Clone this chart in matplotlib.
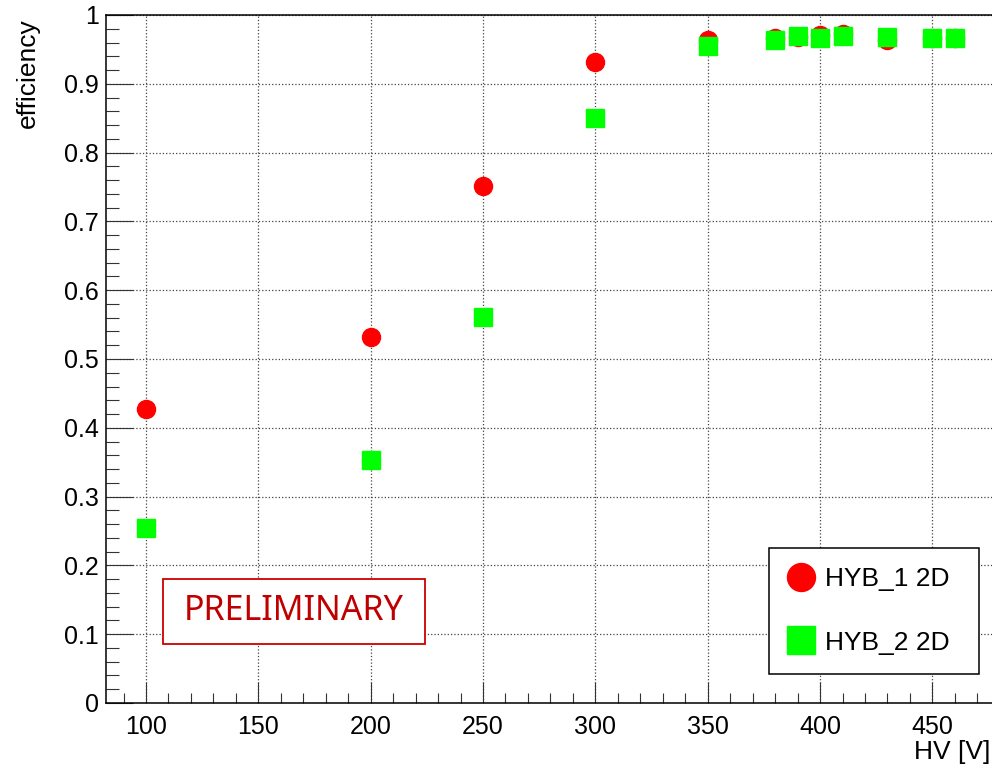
import numpy as np
import matplotlib
matplotlib.use("Agg")
import matplotlib.pyplot as plt
from matplotlib.patches import Rectangle
from matplotlib.ticker import MultipleLocator

plt.rcParams['font.family'] = ['Liberation Sans', 'DejaVu Sans']

# HV scan, efficiency per hybrid
hv_1 = [100, 200, 250, 300, 350, 380, 390, 400, 410, 430, 450, 460]
eff_1 = [0.428, 0.532, 0.751, 0.932, 0.964, 0.967, 0.968, 0.971, 0.972, 0.964, 0.966, 0.967]
hv_2 = [100, 200, 250, 300, 350, 380, 390, 400, 410, 430, 450, 460]
eff_2 = [0.254, 0.353, 0.561, 0.850, 0.955, 0.964, 0.969, 0.966, 0.969, 0.968, 0.967, 0.967]
labels = ['HYB_1 2D', 'HYB_2 2D']


def make_axes():
    fig = plt.figure(figsize=(9.92, 7.67), dpi=100)
    ax = fig.add_axes([106 / 992, 64 / 767, 894 / 992, 688 / 767])
    ax.set_xlim(82.19, 480.1)
    ax.set_ylim(0, 1)

    ax.xaxis.set_major_locator(MultipleLocator(50))
    ax.xaxis.set_minor_locator(MultipleLocator(10))
    ax.yaxis.set_major_locator(MultipleLocator(0.1))
    ax.yaxis.set_minor_locator(MultipleLocator(0.02))
    ax.yaxis.set_major_formatter(lambda v, p: '0' if abs(v) < 1e-9 else ('1' if abs(v - 1) < 1e-9 else f'{v:.1f}'))

    ax.tick_params(axis='both', which='both', direction='in', colors='#333333',
                   labelcolor='black', width=0.8, top=False, right=False)
    ax.tick_params(axis='x', which='major', length=15, labelsize=18, pad=9)
    ax.tick_params(axis='x', which='minor', length=7.5)
    ax.tick_params(axis='y', which='major', length=19.5, labelsize=18, pad=5)
    ax.tick_params(axis='y', which='minor', length=9.5)

    for s in ax.spines.values():
        s.set_linewidth(1.1)
    ax.grid(True, which='major', linestyle=':', color='#444444', linewidth=0.9)
    ax.set_axisbelow(True)

    ax.set_xlabel('HV [V]', fontsize=19, loc='right')
    ax.xaxis.set_label_coords(0.9888, -0.0538)
    ax.set_ylabel('efficiency', fontsize=19, loc='top')
    ax.yaxis.set_label_coords(-0.074, 0.995)
    return fig, ax


def main():
    fig, ax = make_axes()
    ax.plot(hv_1, eff_1, 'o', color='#ff0000', mec='#ff0000', ms=13, zorder=3, label=labels[0])
    ax.plot(hv_2, eff_2, 's', color='#00ff00', mec='#00ff00', ms=13, zorder=4, label=labels[1])

    leg = ax.legend(loc='lower left', bbox_to_anchor=(0.7416, 0.0422, 0.2349, 0.1831),
                    mode='expand', borderaxespad=0, fontsize=19, markerscale=1.55,
                    handlelength=1.0, handletextpad=0.4, labelspacing=1.49,
                    borderpad=0.73, fancybox=False, framealpha=1)
    leg.get_frame().set_edgecolor('black')
    leg.get_frame().set_linewidth(1.1)

    # preliminary stamp
    ax.add_patch(Rectangle((0.0638, 0.0858), 0.293, 0.0945, transform=ax.transAxes,
                           facecolor='white', edgecolor='#cc0000', linewidth=1.3, zorder=5))
    ax.text(0.2103, 0.133, 'PRELIMINARY', transform=ax.transAxes, ha='center', va='center',
            fontsize=24.5, color='#c00000', family=['Noto Sans', 'DejaVu Sans'], zorder=6)

    fig.savefig('out.png', dpi=100)


if __name__ == "__main__":
    main()
